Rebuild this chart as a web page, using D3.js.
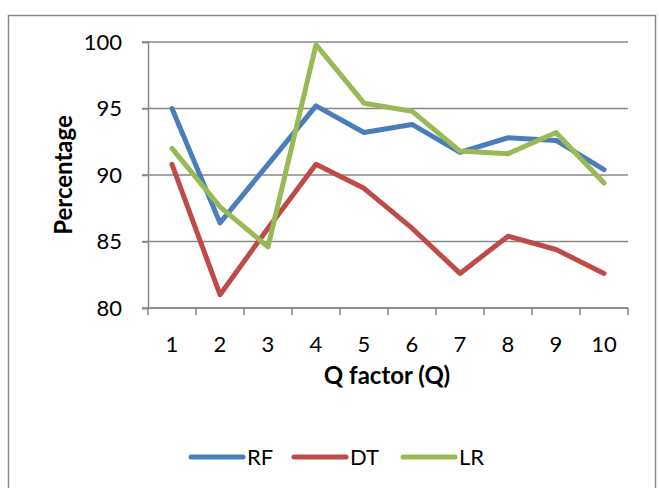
<!DOCTYPE html>
<html>
<head>
<meta charset="utf-8">
<script src="https://cdn.jsdelivr.net/npm/d3@7"></script>
<style>
  html, body { margin: 0; padding: 0; background: #fff; }
  svg { display: block; }
  text { font-family: "Lato", "Open Sans", sans-serif; fill: #000; }
</style>
</head>
<body>
<svg id="chart" width="659" height="488"></svg>
<script>
// Q factor categories and accuracy (%) per classifier
const categories = ["1", "2", "3", "4", "5", "6", "7", "8", "9", "10"];
const rfValues = [95.0, 86.4, 90.8, 95.2, 93.2, 93.8, 91.7, 92.8, 92.6, 90.4];
const dtValues = [90.8, 81.0, 86.0, 90.8, 89.0, 86.0, 82.6, 85.4, 84.4, 82.6];
const lrValues = [92.0, 87.6, 84.6, 99.8, 95.4, 94.8, 91.8, 91.6, 93.2, 89.4];
const yTicks = [80, 85, 90, 95, 100];
const seriesNames = ["RF", "DT", "LR"];
const seriesColors = ["#4A7EBB", "#BE4B48", "#98B954"];

const series = [rfValues, dtValues, lrValues].map((values, i) => ({
  name: seriesNames[i], color: seriesColors[i], values
}));

const svg = d3.select("#chart");
const plot = { left: 148, right: 628, top: 42, bottom: 308 };
const labelSize = "22px";
const titleSize = "24px";

// outer frame
svg.append("rect")
  .attr("x", 8.5).attr("y", 15.5).attr("width", 647).attr("height", 480)
  .attr("fill", "none").attr("stroke", "#868686").attr("stroke-width", 1.5);

const x = d3.scaleBand().domain(categories).range([plot.left, plot.right]);
const y = d3.scaleLinear().domain([80, 100]).range([plot.bottom, plot.top]);

// horizontal gridlines
svg.append("g").selectAll("line").data(yTicks).join("line")
  .attr("x1", plot.left - 6).attr("x2", plot.right)
  .attr("y1", d => y(d)).attr("y2", d => y(d))
  .attr("stroke", "#868686").attr("stroke-width", 1.5);

// y axis
const yAxis = svg.append("g")
  .attr("transform", `translate(${plot.left},0)`)
  .call(d3.axisLeft(y).tickValues(yTicks).tickSize(6).tickPadding(20));
yAxis.select(".domain").attr("stroke", "#868686").attr("stroke-width", 1.5);
yAxis.selectAll(".tick line").attr("stroke", "#868686").attr("stroke-width", 1.5);
yAxis.selectAll("text").style("font-size", labelSize).attr("fill", "#000");

// x axis with ticks at category boundaries
const xAxisG = svg.append("g").attr("transform", `translate(0,${plot.bottom})`);
xAxisG.append("line")
  .attr("x1", plot.left).attr("x2", plot.right)
  .attr("stroke", "#868686").attr("stroke-width", 1.5);
const bounds = categories.map(c => x(c)).concat([x(categories[categories.length - 1]) + x.bandwidth()]);
xAxisG.selectAll("line.tk").data(bounds).join("line").attr("class", "tk")
  .attr("x1", d => d).attr("x2", d => d).attr("y1", 0).attr("y2", 7)
  .attr("stroke", "#868686").attr("stroke-width", 1.5);
xAxisG.selectAll("text").data(categories).join("text")
  .attr("x", d => x(d) + x.bandwidth() / 2).attr("y", 44)
  .attr("text-anchor", "middle").style("font-size", labelSize).text(d => d);

// axis titles
svg.append("text").attr("x", 387).attr("y", 384)
  .attr("text-anchor", "middle").style("font-size", titleSize).style("font-weight", "bold")
  .text("Q factor (Q)");
svg.append("text")
  .attr("transform", `translate(72,${(plot.top + plot.bottom) / 2}) rotate(-90)`)
  .attr("text-anchor", "middle").style("font-size", titleSize).style("font-weight", "bold")
  .text("Percentage");

// lines
const line = d3.line()
  .x((d, i) => x(categories[i]) + x.bandwidth() / 2)
  .y(d => y(d));
svg.append("g").selectAll("path").data(series).join("path")
  .attr("d", d => line(d.values))
  .attr("fill", "none").attr("stroke", d => d.color)
  .attr("stroke-width", 5).attr("stroke-linejoin", "round").attr("stroke-linecap", "round");

// legend
const legendX = [190, 293, 402];
const legend = svg.append("g").selectAll("g").data(series).join("g")
  .attr("transform", (d, i) => `translate(${legendX[i]},457)`);
legend.append("line").attr("x1", 1).attr("x2", 53)
  .attr("stroke", d => d.color).attr("stroke-width", 5).attr("stroke-linecap", "round");
legend.append("text").attr("x", 57).attr("y", 8)
  .style("font-size", labelSize).text(d => d.name);
</script>
</body>
</html>
